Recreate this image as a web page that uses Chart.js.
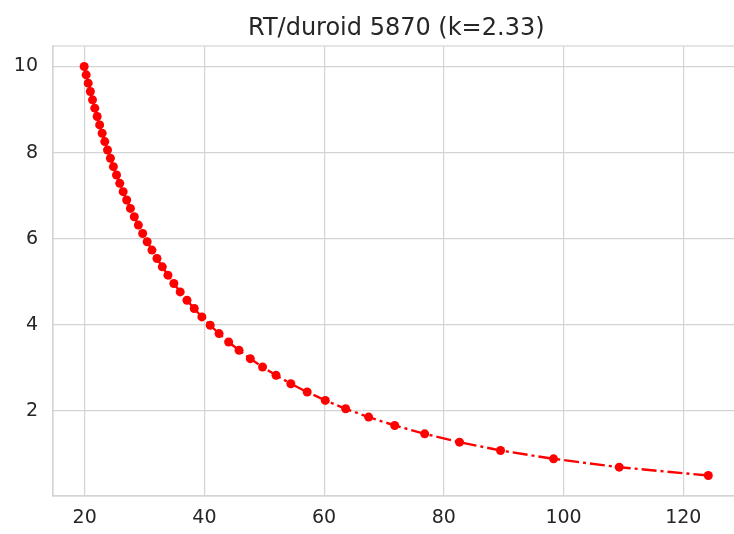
<!DOCTYPE html>
<html>
<head>
<meta charset="utf-8">
<script src="https://cdn.jsdelivr.net/npm/chart.js@4.4.0/dist/chart.umd.min.js"></script>
<style>
  html, body { margin: 0; padding: 0; background: #fff; overflow: hidden; width: 734px; height: 534px; }
  #wrap { position: relative; width: 734px; height: 534px; overflow: hidden; }
  #chart { position: absolute; left: 0; top: 0; }
</style>
</head>
<body>
<div id="wrap"><canvas id="chart" width="744" height="534"></canvas></div>
<script>
// impedance (x) vs W/h ratio (y)
const impedance = [
  124.18, 109.3, 98.33, 89.47, 82.62, 76.80, 71.79, 67.44, 63.60, 60.20,
  57.17, 54.44, 51.97, 49.72, 47.67, 45.79, 44.05, 42.45, 40.97, 39.58,
  38.30, 37.09, 35.96, 34.90, 33.91, 32.97, 32.08, 31.24, 30.44, 29.69,
  28.97, 28.29, 27.64, 27.02, 26.43, 25.86, 25.32, 24.80, 24.30, 23.82,
  23.36, 22.92, 22.50, 22.09, 21.69, 21.31, 20.95, 20.59, 20.25, 19.92
];
const ratio = [
  0.500, 0.694, 0.888, 1.082, 1.276, 1.469, 1.663, 1.857, 2.051, 2.245,
  2.439, 2.633, 2.827, 3.020, 3.214, 3.408, 3.602, 3.796, 3.990, 4.184,
  4.378, 4.571, 4.765, 4.959, 5.153, 5.347, 5.541, 5.735, 5.929, 6.122,
  6.316, 6.510, 6.704, 6.898, 7.092, 7.286, 7.480, 7.673, 7.867, 8.061,
  8.255, 8.449, 8.643, 8.837, 9.031, 9.224, 9.418, 9.612, 9.806, 10.000
];
const xTicks = [20, 40, 60, 80, 100, 120];
const yTicks = [2, 4, 6, 8, 10];
const titleText = 'RT/duroid 5870 (k=2.33)';

const points = impedance.map((x, i) => ({ x: x, y: ratio[i] }));

// light grey frame on all four sides + title centred over the plot area
const frame = {
  id: 'frame',
  afterDraw(chart) {
    const a = chart.chartArea, c = chart.ctx;
    c.save();
    c.strokeStyle = '#d4d4d4';
    c.lineWidth = 1.2;
    c.strokeRect(a.left, a.top, a.right - a.left, a.bottom - a.top);
    c.fillStyle = '#262626';
    c.font = '24px "DejaVu Sans"';
    c.textAlign = 'center';
    c.textBaseline = 'alphabetic';
    c.fillText(titleText, (a.left + a.right) / 2, 34.5);
    c.restore();
  }
};

new Chart(document.getElementById('chart'), {
  type: 'scatter',
  data: {
    datasets: [{
      data: points,
      showLine: true,
      borderColor: '#ff0000',
      borderWidth: 2.4,
      borderDash: [15, 4, 3, 4],
      pointRadius: 4.5,
      pointBackgroundColor: '#ff0000',
      pointBorderWidth: 0,
      tension: 0
    }]
  },
  options: {
    responsive: false,
    animation: false,
    layout: { padding: { left: 0, right: 1, top: 46, bottom: 0 } },
    plugins: {
      legend: { display: false },
      tooltip: { enabled: false },
      title: { display: false }
    },
    scales: {
      x: {
        type: 'linear',
        min: 14.71,
        max: 129.39,
        afterBuildTicks: s => { s.ticks = xTicks.map(v => ({ value: v })); },
        afterFit: s => { s.height = 38; },
        grid: { color: '#d4d4d4', lineWidth: 1.2, drawTicks: false },
        border: { color: '#d4d4d4', width: 1.2 },
        ticks: {
          color: '#262626',
          padding: 11,
          font: { family: 'DejaVu Sans', size: 19 }
        }
      },
      y: {
        type: 'linear',
        min: 0.025,
        max: 10.475,
        afterBuildTicks: s => { s.ticks = yTicks.map(v => ({ value: v })); },
        afterFit: s => { s.width = 53; },
        grid: { color: '#d4d4d4', lineWidth: 1.2, drawTicks: false },
        border: { color: '#d4d4d4', width: 1.2 },
        ticks: {
          color: '#262626',
          padding: 15,
          font: { family: 'DejaVu Sans', size: 19 }
        }
      }
    }
  },
  plugins: [frame]
});
</script>
</body>
</html>
